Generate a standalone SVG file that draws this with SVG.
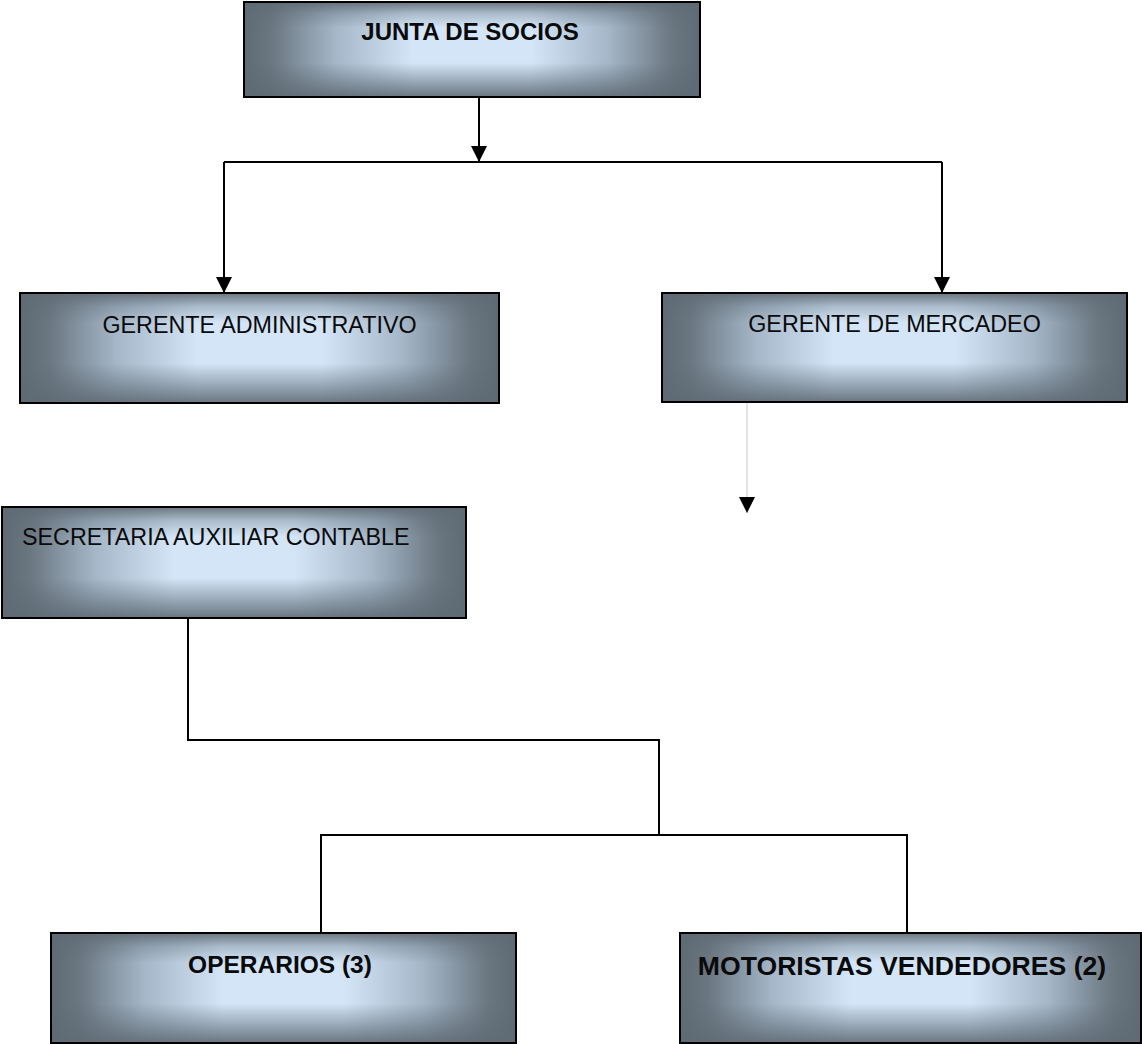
<svg xmlns="http://www.w3.org/2000/svg" width="1142" height="1044" viewBox="0 0 1142 1044">
<style>
.bg{fill:url(#gh);}
.ov{fill:url(#gv);}
.bd{fill:none;stroke:#000;stroke-width:2;}
.t{font-family:"Liberation Sans",Arial,sans-serif;font-size:23.3px;fill:#0a0a0a;}
.b{font-family:"Liberation Sans",Arial,sans-serif;font-weight:bold;fill:#0a0a0a;}
.c{fill:none;stroke:#000;stroke-width:2;}
.g{fill:none;stroke:#c8c8c8;stroke-width:1;}
</style>
<defs>
<linearGradient id="gh" x1="0" y1="0" x2="1" y2="0">
<stop offset="0" stop-color="#5e6a74"/>
<stop offset="0.06" stop-color="#6a7680"/>
<stop offset="0.2" stop-color="#a4b6c7"/>
<stop offset="0.37" stop-color="#d3e5f7"/>
<stop offset="0.63" stop-color="#d3e5f7"/>
<stop offset="0.8" stop-color="#a4b6c7"/>
<stop offset="0.94" stop-color="#6a7680"/>
<stop offset="1" stop-color="#5e6a74"/>
</linearGradient>
<linearGradient id="gv" x1="0" y1="0" x2="0" y2="1">
<stop offset="0" stop-color="#5e6a74" stop-opacity="0.9"/>
<stop offset="0.12" stop-color="#5e6a74" stop-opacity="0.35"/>
<stop offset="0.27" stop-color="#5e6a74" stop-opacity="0"/>
<stop offset="0.64" stop-color="#5e6a74" stop-opacity="0"/>
<stop offset="0.82" stop-color="#5e6a74" stop-opacity="0.45"/>
<stop offset="1" stop-color="#5e6a74" stop-opacity="0.9"/>
</linearGradient>
<marker id="ad" markerUnits="userSpaceOnUse" markerWidth="16" markerHeight="16" viewBox="0 0 16 16" refX="16" refY="8" orient="auto">
<path d="M0,0 L16,8 L0,16 Z" fill="#000"/>
</marker>
</defs>

<g id="connectors">
<path class="c" d="M479,97 V162" marker-end="url(#ad)"/>
<path class="c" d="M224,162 H942"/>
<path class="c" d="M224,162 V293" marker-end="url(#ad)"/>
<path class="c" d="M942,162 V293" marker-end="url(#ad)"/>
<path class="g" d="M747,403 V513" marker-end="url(#ad)"/>
<path class="c" d="M188,618 V740 H659 V835"/>
<path class="c" d="M321,933 V835 H907 V933"/>
</g>

<g id="junta">
<rect class="bg" x="244" y="2" width="456" height="95"/>
<rect class="ov" x="244" y="2" width="456" height="95"/>
<rect class="bd" x="244" y="2" width="456" height="95"/>
<text class="b" x="470" y="40" font-size="24" text-anchor="middle">JUNTA DE SOCIOS</text>
</g>

<g id="gerente-admin">
<rect class="bg" x="20" y="293" width="479" height="110"/>
<rect class="ov" x="20" y="293" width="479" height="110"/>
<rect class="bd" x="20" y="293" width="479" height="110"/>
<text class="t" x="259.5" y="333" text-anchor="middle">GERENTE ADMINISTRATIVO</text>
</g>

<g id="gerente-mercadeo">
<rect class="bg" x="662" y="293" width="465" height="109"/>
<rect class="ov" x="662" y="293" width="465" height="109"/>
<rect class="bd" x="662" y="293" width="465" height="109"/>
<text class="t" x="894.5" y="332" text-anchor="middle">GERENTE DE MERCADEO</text>
</g>

<g id="secretaria">
<rect class="bg" x="2" y="507" width="464" height="111"/>
<rect class="ov" x="2" y="507" width="464" height="111"/>
<rect class="bd" x="2" y="507" width="464" height="111"/>
<text class="t" x="22" y="545">SECRETARIA AUXILIAR CONTABLE</text>
</g>

<g id="operarios">
<rect class="bg" x="51" y="933" width="465" height="110"/>
<rect class="ov" x="51" y="933" width="465" height="110"/>
<rect class="bd" x="51" y="933" width="465" height="110"/>
<text class="b" x="280" y="973" font-size="24.5" text-anchor="middle">OPERARIOS (3)</text>
</g>

<g id="motoristas">
<rect class="bg" x="680" y="933" width="461" height="110"/>
<rect class="ov" x="680" y="933" width="461" height="110"/>
<rect class="bd" x="680" y="933" width="461" height="110"/>
<text class="b" x="902" y="975" font-size="26.6" text-anchor="middle">MOTORISTAS VENDEDORES (2)</text>
</g>
</svg>
